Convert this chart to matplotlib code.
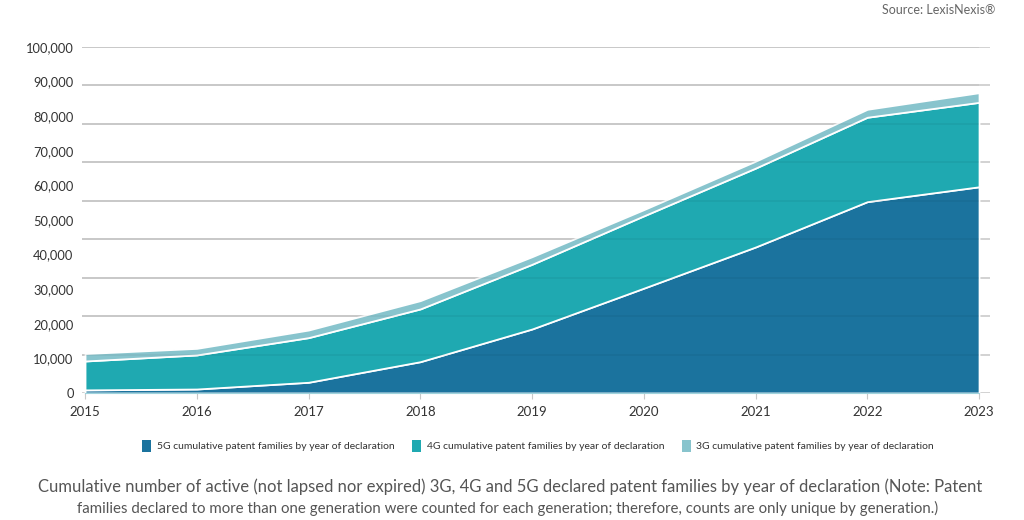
import matplotlib
matplotlib.use("Agg")
import matplotlib.pyplot as plt
from matplotlib.patches import Patch
import numpy as np

plt.rcParams['font.family'] = ['Lato', 'DejaVu Sans']

years = [2015, 2016, 2017, 2018, 2019, 2020, 2021, 2022, 2023]
g5 = [900, 1150, 3100, 9050, 18500, 30300, 42200, 55300, 59600]
g4 = [8350, 9850, 12900, 15250, 18700, 20900, 22800, 24400, 24400]
g3 = [2150, 1900, 2200, 2400, 2200, 1800, 2000, 2300, 2800]
labels = ["5G cumulative patent families by year of declaration",
          "4G cumulative patent families by year of declaration",
          "3G cumulative patent families by year of declaration"]
colors = ["#1b739e", "#1fa9b1", "#88c4cd"]
yticks = list(range(0, 100001, 10000))

fig = plt.figure(figsize=(10.24, 5.2), dpi=100)
ax = fig.add_axes([82/1024, 1-393/520, 908/1024, 346/520])

# gridlines (as drawn in the reference, spaced independently of the labels)
grid_vals = np.linspace(0, 100000, 10)
ax.hlines(grid_vals, 2014.973, 2023.098, colors="#cfcfcf", linewidth=1.3, zorder=0)

ax.stackplot(years, g5, g4, g3, colors=colors, edgecolor="white",
             linewidth=1.3, zorder=2)
ax.hlines(grid_vals[1:], 2014.973, 2023.0, colors=(0, 0, 0, 0.05),
          linewidth=1.2, zorder=3)

ax.set_xlim(2014.973, 2023.098)
ax.set_ylim(0, 100000)
ax.set_xticks(years)
ax.set_xticklabels([str(y) for y in years], fontsize=9.5, color="#333333")
ax.set_yticks(yticks)
ax.set_yticklabels([f"{v:,}" for v in yticks], fontsize=9.3, color="#333333")
ax.tick_params(axis="y", length=0, pad=6)
ax.tick_params(axis="x", length=4, color="#c8c8c8", pad=5)
for s in ["top", "right", "left"]:
    ax.spines[s].set_visible(False)
ax.spines["bottom"].set_color("#9fd3dc")
ax.spines["bottom"].set_bounds(2015, 2023)

handles = [Patch(facecolor=c, edgecolor="none") for c in colors]
fig.legend(handles, labels, loc="center", bbox_to_anchor=(538/1024, 1-446/520),
           ncol=3, frameon=False, fontsize=7.5, handlelength=0.9,
           handleheight=1.3, handletextpad=0.5, columnspacing=1.7,
           labelcolor="#333333")

fig.text(995/1024, 1-10/520, "Source: LexisNexis®", ha="right", va="center",
         fontsize=9, color="#666666")
fig.text(510/1024, 1-487/520,
         "Cumulative number of active (not lapsed nor expired) 3G, 4G and 5G declared patent families by year of declaration (Note: Patent",
         ha="center", va="center", fontsize=12.0, color="#555555")
fig.text(508/1024, 1-508/520,
         "families declared to more than one generation were counted for each generation; therefore, counts are only unique by generation.)",
         ha="center", va="center", fontsize=10.8, color="#555555")

fig.savefig("out.png", dpi=100)
